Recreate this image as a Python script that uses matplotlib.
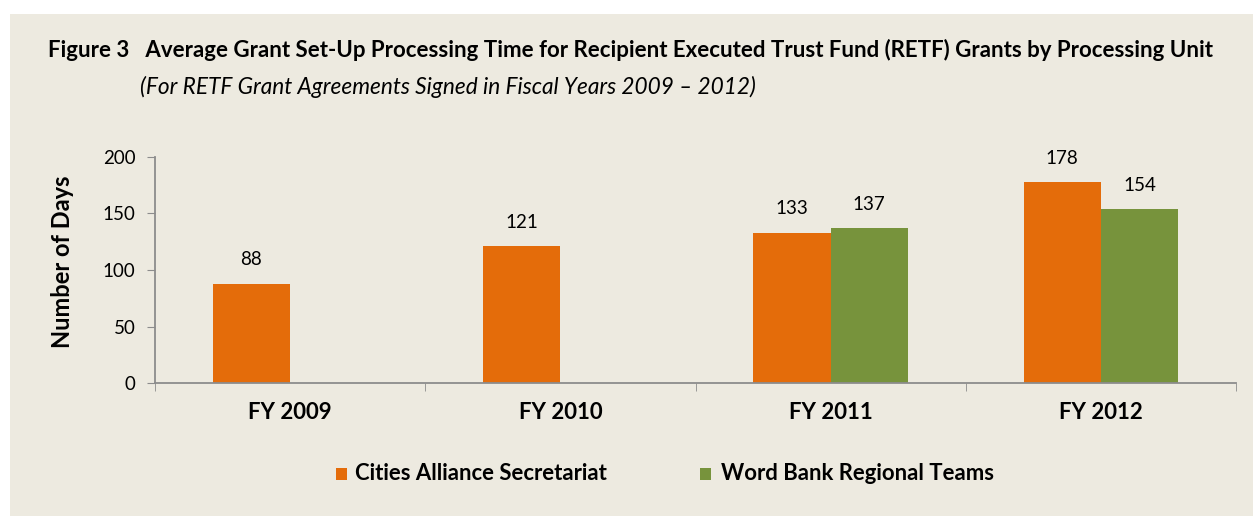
import matplotlib
matplotlib.use("Agg")
import matplotlib.pyplot as plt
import numpy as np
from matplotlib.patches import Rectangle

categories = ["FY 2009", "FY 2010", "FY 2011", "FY 2012"]
cities = [88, 121, 133, 178]
worldbank = [None, None, 137, 154]
series_names = ["Cities Alliance Secretariat", "Word Bank Regional Teams"]
yticks = [0, 50, 100, 150, 200]

BG = "#EDEAE0"
ORANGE = "#E46C0A"
GREEN = "#77933C"
FONT = "Lato"

fig = plt.figure(figsize=(12.53, 5.16), dpi=100)
fig.patch.set_facecolor("white")
fig.patches.append(Rectangle((10/1253, 0), 1, 1 - 14/516, transform=fig.transFigure,
                             facecolor=BG, edgecolor="none", zorder=-10))

ax = fig.add_axes([155/1253, 1 - 383/516, (1236-155)/1253, (383-157)/516])
ax.set_zorder(1)
ax.patch.set_alpha(0)

x = np.arange(len(categories))
w = 0.286
ax.bar(x - w/2, cities, w, color=ORANGE, zorder=2)
wb_x = [xi + w/2 for xi, v in zip(x, worldbank) if v is not None]
wb_v = [v for v in worldbank if v is not None]
ax.bar(wb_x, wb_v, w, color=GREEN, zorder=2)

for xi, v in zip(x, cities):
    ax.text(xi - w/2, v + 21, str(v), ha="center", va="center", fontsize=13.5, family=FONT)
for xi, v in zip(wb_x, wb_v):
    ax.text(xi, v + 21, str(v), ha="center", va="center", fontsize=13.5, family=FONT)

ax.set_xlim(-0.5, len(categories) - 0.5)
ax.set_ylim(0, 200)
ax.set_yticks(yticks)
ax.set_yticklabels([str(t) for t in yticks], fontsize=13.5, family=FONT)
ax.set_xticks(x)
ax.set_xticklabels(categories, fontsize=16, fontweight="bold", family=FONT)
ax.tick_params(axis="x", which="major", length=0, pad=14)
ax.set_xticks(np.arange(-0.5, len(categories), 1), minor=True)
ax.tick_params(axis="x", which="minor", length=6, color="#8C8C8C")
ax.tick_params(axis="y", length=6, color="#8C8C8C", pad=8)
for s in ["top", "right"]:
    ax.spines[s].set_visible(False)
for s in ["left", "bottom"]:
    ax.spines[s].set_color("#8C8C8C")
    ax.spines[s].set_linewidth(1.3)

fig.text(62/1253, 1 - 262/516, "Number of Days", rotation=90, ha="center", va="center",
         fontsize=17, fontweight="bold", family=FONT)

fig.text(48/1253, 1 - 50/516,
         "Figure 3   Average Grant Set-Up Processing Time for Recipient Executed Trust Fund (RETF) Grants by Processing Unit",
         ha="left", va="center", fontsize=16, fontweight="bold", family=FONT)
fig.text(140/1253, 1 - 87/516,
         "(For RETF Grant Agreements Signed in Fiscal Years 2009 \u2013 2012)",
         ha="left", va="center", fontsize=16.3, style="italic", family=FONT)

# legend
fig.patches.append(Rectangle((336/1253, 1 - 480/516), 11/1253, 12/516, transform=fig.transFigure,
                             facecolor=ORANGE, edgecolor="none"))
fig.text(355/1253, 1 - 474/516, series_names[0], ha="left", va="center",
         fontsize=15.9, fontweight="bold", family=FONT)
fig.patches.append(Rectangle((700/1253, 1 - 480/516), 11/1253, 12/516, transform=fig.transFigure,
                             facecolor=GREEN, edgecolor="none"))
fig.text(721/1253, 1 - 474/516, series_names[1], ha="left", va="center",
         fontsize=15.9, fontweight="bold", family=FONT)

fig.savefig("out.png", dpi=100, facecolor=fig.get_facecolor())
